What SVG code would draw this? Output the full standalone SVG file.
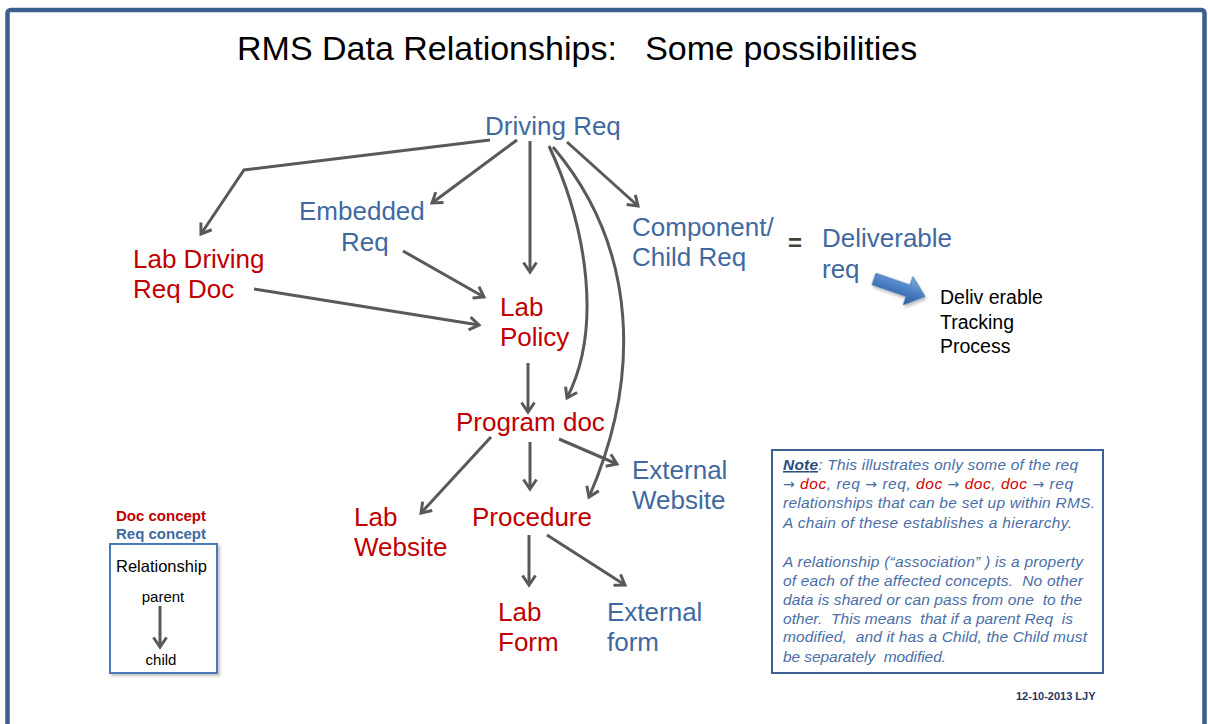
<svg xmlns="http://www.w3.org/2000/svg" width="1208" height="724" viewBox="0 0 1208 724">
  <defs>
    <style>
      .t { font-family: "Liberation Sans", Arial, sans-serif; }
      .title { font-size: 34px; fill: #000; white-space: pre; }
      .req { font-size: 26px; fill: #4169a0; }
      .doc { font-size: 26px; fill: #c00000; }
      .plain { fill: #000; }
      .note { font-size: 15.5px; font-style: italic; fill: #4a6ea6; white-space: pre; }
      .red { fill: #d00000; }
      .arr { font-family: "DejaVu Sans", sans-serif; font-style: normal; font-size: 14px; }
      .conn { fill: none; stroke: #595959; stroke-width: 3; marker-end: url(#chev); }
    </style>
    <marker id="chev" markerUnits="userSpaceOnUse" markerWidth="16" markerHeight="16" viewBox="0 0 16 16" refX="13" refY="8" orient="auto" overflow="visible">
      <path d="M3.5,1.5 L13,8 L3.5,14.5" fill="none" stroke="#595959" stroke-width="3" stroke-linejoin="miter"/>
    </marker>
    <linearGradient id="blueArrow" x1="0" y1="0" x2="0" y2="1">
      <stop offset="0" stop-color="#7eaee4"/>
      <stop offset="0.5" stop-color="#4b80c4"/>
      <stop offset="1" stop-color="#2c5a98"/>
    </linearGradient>
    <filter id="shadow" x="-10%" y="-10%" width="130%" height="130%">
      <feDropShadow dx="2" dy="2" stdDeviation="1.5" flood-color="#000" flood-opacity="0.25"/>
    </filter>
  </defs>

  <rect width="1208" height="724" fill="#fff"/>
  <!-- slide frame -->
  <rect x="7.5" y="10" width="1197" height="760" rx="3" fill="none" stroke="#3d5e8c" stroke-width="4.5"/>

  <text class="t title" x="237" y="60">RMS Data Relationships:   Some possibilities</text>

  <!-- connectors -->
  <g id="connectors">
    <polyline class="conn" points="490,140 244,170 201,234"/>
    <line class="conn" x1="517" y1="140" x2="432" y2="203"/>
    <line class="conn" x1="530" y1="141" x2="530" y2="272"/>
    <line class="conn" x1="567" y1="142" x2="638" y2="206"/>
    <path class="conn" d="M549,146 C588,230 602,330 567,398"/>
    <path class="conn" d="M553,147 C640,250 640,380 589,497"/>
    <line class="conn" x1="403" y1="251" x2="484" y2="297"/>
    <line class="conn" x1="254" y1="289" x2="479" y2="325"/>
    <line class="conn" x1="528" y1="363" x2="528" y2="412"/>
    <line class="conn" x1="491" y1="437" x2="421" y2="513"/>
    <line class="conn" x1="530" y1="442" x2="530" y2="489"/>
    <line class="conn" x1="559" y1="439" x2="617" y2="464"/>
    <line class="conn" x1="529" y1="535" x2="529" y2="585"/>
    <line class="conn" x1="547" y1="535" x2="625" y2="585"/>
  </g>

  <!-- nodes -->
  <g id="driving-req">
    <text class="t req" x="485" y="135">Driving Req</text>
  </g>
  <g id="embedded-req">
    <text class="t req" x="299" y="220">Embedded</text>
    <text class="t req" x="341" y="251">Req</text>
  </g>
  <g id="lab-driving-req-doc">
    <text class="t doc" x="133" y="268">Lab Driving</text>
    <text class="t doc" x="133" y="298">Req Doc</text>
  </g>
  <g id="component-child-req">
    <text class="t req" x="632" y="236">Component/</text>
    <text class="t req" x="632" y="266">Child Req</text>
  </g>
  <g id="equals">
    <text class="t" x="788" y="251" font-size="24" font-weight="bold" fill="#404040">=</text>
  </g>
  <g id="deliverable-req">
    <text class="t req" x="822" y="247">Deliverable</text>
    <text class="t req" x="822" y="278">req</text>
  </g>
  <g id="deliverable-arrow">
    <polygon transform="translate(874,279) rotate(19)" points="0,-6 36,-6 36,-15 54,0 36,15 36,6 0,6" fill="url(#blueArrow)" stroke="#3a6aa8" stroke-width="0.8" filter="url(#shadow)"/>
  </g>
  <g id="deliverable-tracking">
    <text class="t plain" x="940" y="304" font-size="19.5">Deliv erable</text>
    <text class="t plain" x="940" y="328.5" font-size="19.5">Tracking</text>
    <text class="t plain" x="940" y="353" font-size="19.5">Process</text>
  </g>
  <g id="lab-policy">
    <text class="t doc" x="500" y="316">Lab</text>
    <text class="t doc" x="500" y="346">Policy</text>
  </g>
  <g id="program-doc">
    <text class="t doc" x="456" y="431">Program doc</text>
  </g>
  <g id="external-website">
    <text class="t req" x="632" y="479">External</text>
    <text class="t req" x="632" y="509">Website</text>
  </g>
  <g id="lab-website">
    <text class="t doc" x="354" y="526">Lab</text>
    <text class="t doc" x="354" y="556">Website</text>
  </g>
  <g id="procedure">
    <text class="t doc" x="472" y="526">Procedure</text>
  </g>
  <g id="lab-form">
    <text class="t doc" x="498" y="621">Lab</text>
    <text class="t doc" x="498" y="651">Form</text>
  </g>
  <g id="external-form">
    <text class="t req" x="607" y="621">External</text>
    <text class="t req" x="607" y="651">form</text>
  </g>

  <!-- legend -->
  <g id="legend">
    <text class="t" x="116" y="521" font-size="15" font-weight="bold" fill="#c00000">Doc concept</text>
    <text class="t" x="116" y="539" font-size="15" font-weight="bold" fill="#4169a0">Req concept</text>
    <rect x="110" y="544" width="107" height="129" fill="#fff" stroke="#4a7ab8" stroke-width="2" filter="url(#shadow)"/>
    <text class="t plain" x="116" y="572" font-size="16.5">Relationship</text>
    <text class="t plain" x="163" y="602" font-size="15" text-anchor="middle">parent</text>
    <line class="conn" x1="160" y1="606" x2="160" y2="647"/>
    <text class="t plain" x="161" y="665" font-size="15" text-anchor="middle">child</text>
  </g>

  <!-- explanatory note -->
  <g id="note">
    <rect x="772" y="450" width="331" height="223" fill="#fff" stroke="#3d6096" stroke-width="2"/>
    <text class="t note" x="783" y="470" textLength="295" lengthAdjust="spacing"><tspan font-weight="bold" text-decoration="underline" fill="#2b4c7e">Note</tspan>: This illustrates only some of the req</text>
    <text class="t note" x="783" y="489" textLength="290" lengthAdjust="spacing"><tspan class="arr">→</tspan> <tspan class="red">doc</tspan>, req <tspan class="arr">→</tspan> req, <tspan class="red">doc</tspan> <tspan class="arr">→</tspan> <tspan class="red">doc</tspan>, <tspan class="red">doc</tspan> <tspan class="arr">→</tspan> req</text>
    <text class="t note" x="783" y="508" textLength="312" lengthAdjust="spacing">relationships that can be set up within RMS.</text>
    <text class="t note" x="783" y="528" textLength="289" lengthAdjust="spacing">A chain of these establishes a hierarchy.</text>
    <text class="t note" x="783" y="567" textLength="300" lengthAdjust="spacing">A relationship (“association” ) is a property</text>
    <text class="t note" x="783" y="586" textLength="300" lengthAdjust="spacing">of each of the affected concepts.  No other</text>
    <text class="t note" x="783" y="605" textLength="299" lengthAdjust="spacing">data is shared or can pass from one  to the</text>
    <text class="t note" x="783" y="624" textLength="290" lengthAdjust="spacing">other.  This means  that if a parent Req  is</text>
    <text class="t note" x="783" y="642" textLength="304" lengthAdjust="spacing">modified,  and it has a Child, the Child must</text>
    <text class="t note" x="783" y="662" textLength="163" lengthAdjust="spacing">be separately  modified.</text>
  </g>

  <g id="date-stamp">
    <text class="t" x="1016" y="700" font-size="11" font-weight="bold" fill="#1f3864">12-10-2013 LJY</text>
  </g>
</svg>
